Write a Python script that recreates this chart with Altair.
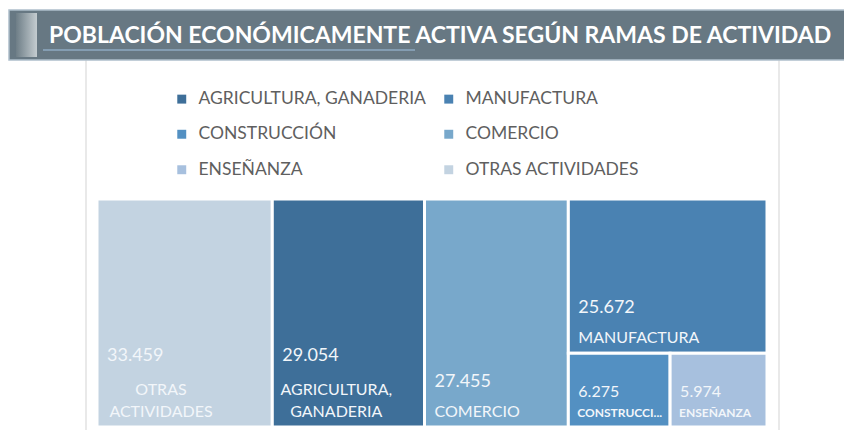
import altair as alt
import pandas as pd

# ---------------- data ----------------
categories = ["OTRAS ACTIVIDADES", "AGRICULTURA, GANADERIA", "COMERCIO",
              "MANUFACTURA", "CONSTRUCCIÓN", "ENSEÑANZA"]
values = [33459, 29054, 27455, 25672, 6275, 5974]
box_labels = ["OTRAS\nACTIVIDADES", "AGRICULTURA,\nGANADERIA", "COMERCIO",
              "MANUFACTURA", "CONSTRUCCIÓN", "ENSEÑANZA"]
legend_order = ["AGRICULTURA, GANADERIA", "MANUFACTURA", "CONSTRUCCIÓN",
                "COMERCIO", "ENSEÑANZA", "OTRAS ACTIVIDADES"]
legend_colors = ["#3e6f99", "#4a82b2", "#5390c2", "#78a8cb", "#a7c0de", "#c3d3e1"]
TITLE = "POBLACIÓN ECONÓMICAMENTE ACTIVA SEGÚN RAMAS DE ACTIVIDAD"

W, H = 670, 228  # plot area (data units of the treemap layout)


# ---------------- squarified treemap layout ----------------
def worst(row, side):
    s = sum(row)
    return max(max(side * side * r / (s * s), (s * s) / (side * side * r)) for r in row)


def squarify(areas, x, y, w, h):
    rects = []
    areas = list(areas)
    while areas:
        side = min(w, h)
        row = [areas[0]]
        i = 1
        while i < len(areas) and worst(row + [areas[i]], side) <= worst(row, side):
            row.append(areas[i])
            i += 1
        s = sum(row)
        if w >= h:
            cw = s / h
            cy = y
            for r in row:
                rh = r / cw
                rects.append((x, cy, x + cw, cy + rh))
                cy += rh
            x += cw
            w -= cw
        else:
            rh = s / w
            cx = x
            for r in row:
                rw = r / rh
                rects.append((cx, y, cx + rw, y + rh))
                cx += rw
            y += rh
            h -= rh
        areas = areas[i:]
    return rects


total = sum(values)
areas = [v / total * W * H for v in values]
rects = squarify(areas, 0, 0, W, H)

df = pd.DataFrame({
    "name": categories,
    "label": box_labels,
    "vtxt": [f"{v:,}".replace(",", ".") for v in values],
    "x0": [r[0] for r in rects],
    "y0": [r[1] for r in rects],
    "x1": [r[2] for r in rects],
    "y1": [r[3] for r in rects],
})
df["lines"] = df["label"].str.count("\n") + 1
df["small"] = (df["x1"] - df["x0"]) < 120

xs = alt.Scale(domain=[0, W], nice=False, zero=False)
ys = alt.Scale(domain=[0, H], nice=False, zero=False, reverse=True)

one = pd.DataFrame({"a": [0]})
FONT = "Lato"

# ---------------- decorations (banner, panel) ----------------
panel_l = alt.Chart(one).mark_rule(color="#e2e2e2", strokeWidth=1.5).encode(
    x=alt.value(-11), y=alt.value(-140), y2=alt.value(H + 20))
panel_r = alt.Chart(one).mark_rule(color="#e2e2e2", strokeWidth=1.5).encode(
    x=alt.value(682), y=alt.value(-140), y2=alt.value(H + 20))

banner = alt.Chart(one).mark_rect(fill="#677883", stroke="#aebfcc", strokeWidth=1.5).encode(
    x=alt.value(-88), x2=alt.value(790), y=alt.value(-189), y2=alt.value(-139))

accent = alt.Chart(one).mark_rect(
    fill=alt.Gradient(gradient="linear",
                      stops=[alt.GradientStop(color="#6e7e87", offset=0),
                             alt.GradientStop(color="#c4ccd0", offset=1)],
                      x1=0, x2=1, y1=0, y2=0)
).encode(x=alt.value(-81), x2=alt.value(-60), y=alt.value(-186), y2=alt.value(-142))

underline = alt.Chart(one).mark_rule(color="#8eaac2", strokeWidth=1.5).encode(
    x=alt.value(-54), x2=alt.value(318), y=alt.value(-149))

title = alt.Chart(one).mark_text(
    align="left", baseline="alphabetic", font=FONT, fontWeight="bold",
    fontSize=23.0, color="white"
).encode(x=alt.value(-48), y=alt.value(-156), text=alt.value(TITLE))

# ---------------- treemap ----------------
base = alt.Chart(df)

boxes = base.mark_rect(stroke="white", strokeWidth=3).encode(
    x=alt.X("x0:Q", scale=xs, axis=None),
    x2="x1:Q",
    y=alt.Y("y0:Q", scale=ys, axis=None),
    y2="y1:Q",
    color=alt.Color(
        "name:N",
        scale=alt.Scale(domain=legend_order, range=legend_colors),
        sort=legend_order,
        legend=alt.Legend(
            title=None, orient="none", legendX=76, legendY=-109,
            direction="horizontal",
            columns=2, symbolType="square", symbolSize=80, symbolStrokeWidth=0,
            labelFont=FONT, labelFontSize=17.5, labelColor="#5f5f5f",
            labelLimit=400, rowPadding=16.5, columnPadding=14, labelOffset=8,
            padding=0,
        ),
    ),
    tooltip=["name:N", "vtxt:N"],
)

pos = dict(x=alt.X("x0:Q", scale=xs), y=alt.Y("y1:Q", scale=ys))
TXT = "#f2f6fa"

names_two = base.transform_filter("!datum.small && datum.lines == 2").mark_text(
    align="center", baseline="alphabetic", dx=64, dy=-32, font=FONT, fontSize=16,
    color=TXT, lineBreak="\n", lineHeight=22
).encode(text="label:N", **pos)

names_one = base.transform_filter("!datum.small && datum.lines == 1").mark_text(
    align="left", baseline="alphabetic", dx=10, dy=-10, font=FONT, fontSize=16,
    color=TXT
).encode(text="label:N", **pos)

names_small = base.transform_filter("datum.small").mark_text(
    align="left", baseline="alphabetic", dx=9, dy=-10, font=FONT, fontSize=12,
    fontWeight="bold", color=TXT, limit=88, ellipsis="..."
).encode(text="label:N", **pos)

vals_two = base.transform_filter("!datum.small && datum.lines == 2").mark_text(
    align="left", baseline="alphabetic", dx=10, dy=-66, font=FONT, fontSize=18,
    color=TXT
).encode(text="vtxt:N", **pos)

vals_one = base.transform_filter("!datum.small && datum.lines == 1").mark_text(
    align="left", baseline="alphabetic", dx=10, dy=-40, font=FONT, fontSize=18,
    color=TXT
).encode(text="vtxt:N", **pos)

vals_small = base.transform_filter("datum.small").mark_text(
    align="left", baseline="alphabetic", dx=10, dy=-30, font=FONT, fontSize=16,
    color=TXT
).encode(text="vtxt:N", **pos)

chart = alt.layer(
    panel_l, panel_r, banner, accent, underline, title,
    boxes, names_two, names_one, names_small, vals_two, vals_one, vals_small
).properties(
    width=W, height=H,
    padding={"left": 89, "top": 191, "right": 77, "bottom": 3},
    autosize=alt.AutoSizeParams(type="none"),
    background="white",
).configure_view(stroke=None)

chart.save("out.html", embed_options={"renderer": "svg", "actions": False})
